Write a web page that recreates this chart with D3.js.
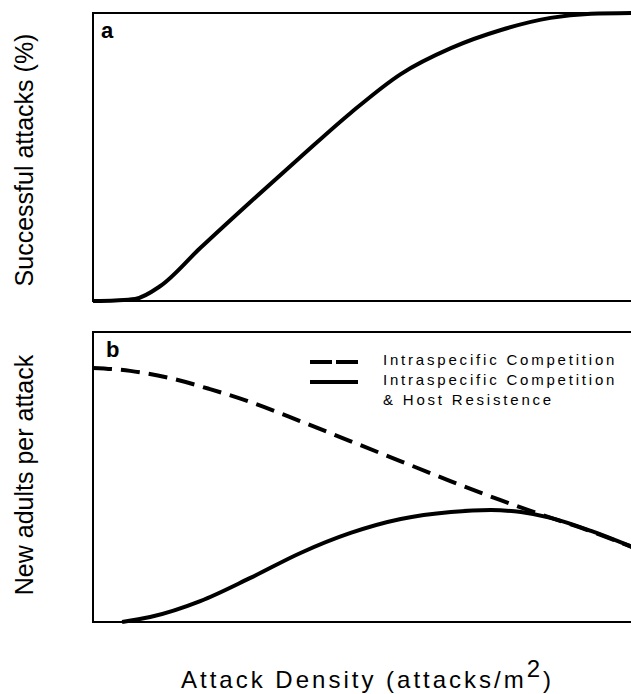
<!DOCTYPE html>
<html lang="en">
<head>
    <meta charset="UTF-8">
    <title>Attack density response</title>
    <style>
        body { margin: 0; background: #fff; }
        text { font-family: "Liberation Sans", Arial, sans-serif; fill: #000; }
    </style>
    <script src="https://d3js.org/d3.v7.min.js"></script>
</head>
<body>
    <div id="chart"></div>

    <script>
        // panel a: successful attacks (%) vs attack density (relative units 0-10)
        const densityA = [0, 0.41, 0.78, 1.25, 1.99, 2.92, 3.85, 4.78, 5.71, 6.64, 7.57, 8.49, 9.24, 10];
        const successA = [0, 0.2, 0.7, 5.2, 18.4, 34.4, 50, 65.3, 78.8, 87.8, 94.1, 98.3, 99.7, 100];

        // panel b: new adults per attack
        const densityComp = [0, 0.69, 1.43, 2.17, 2.91, 3.84, 4.77, 5.7, 6.63, 7.55, 8.29, 9.22, 10];
        const adultsComp = [8.76, 8.66, 8.41, 8.03, 7.59, 6.93, 6.24, 5.55, 4.86, 4.21, 3.72, 3.14, 2.59];

        const densityHost = [0.54, 1.06, 1.99, 2.92, 3.85, 4.78, 5.71, 6.64, 7.38, 7.94, 8.49, 9.24, 10];
        const adultsHost = [0, 0.17, 0.72, 1.52, 2.38, 3.07, 3.55, 3.79, 3.86, 3.79, 3.59, 3.14, 2.59];

        const legendLabels = ["Intraspecific Competition", "Intraspecific Competition", "& Host Resistence"];

        const width = 631, height = 694;
        const left = 93, right = 632;

        const svg = d3.select("#chart").append("svg")
            .attr("width", width)
            .attr("height", height);

        const x = d3.scaleLinear().domain([0, 10]).range([left, right]);
        const yA = d3.scaleLinear().domain([0, 100]).range([301, 13]);
        const yB = d3.scaleLinear().domain([0, 10]).range([622, 332]);

        function panel(y, label, title, labelPos, titleY) {
            const [y0, y1] = y.range();
            svg.append("rect")
                .attr("x", left).attr("y", y1)
                .attr("width", right - left + 2).attr("height", y0 - y1)
                .attr("fill", "none").attr("stroke", "#000").attr("stroke-width", 2);
            svg.append("text")
                .attr("x", labelPos[0]).attr("y", labelPos[1])
                .attr("font-size", 22).attr("font-weight", "bold")
                .text(label);
            svg.append("text")
                .attr("transform", `translate(33,${titleY}) rotate(-90)`)
                .attr("text-anchor", "middle")
                .attr("font-size", 25)
                .text(title);
        }

        panel(yA, "a", "Successful attacks (%)", [101, 38], 160);
        panel(yB, "b", "New adults per attack", [106, 357], 475);

        const lineA = d3.line().x(d => x(d[0])).y(d => yA(d[1])).curve(d3.curveMonotoneX);
        const lineB = d3.line().x(d => x(d[0])).y(d => yB(d[1])).curve(d3.curveMonotoneX);

        svg.append("path")
            .datum(d3.zip(densityA, successA))
            .attr("d", lineA)
            .attr("fill", "none").attr("stroke", "#000").attr("stroke-width", 4);

        svg.append("path")
            .datum(d3.zip(densityComp, adultsComp))
            .attr("d", lineB)
            .attr("fill", "none").attr("stroke", "#000").attr("stroke-width", 4)
            .attr("stroke-dasharray", "19,9");

        svg.append("path")
            .datum(d3.zip(densityHost, adultsHost))
            .attr("d", lineB)
            .attr("fill", "none").attr("stroke", "#000").attr("stroke-width", 4);

        // legend
        const leg = svg.append("g").attr("transform", "translate(310,362)");
        leg.append("line")
            .attr("x1", 0).attr("x2", 48).attr("y1", 0).attr("y2", 0)
            .attr("stroke", "#000").attr("stroke-width", 4).attr("stroke-dasharray", "22,4");
        leg.append("line")
            .attr("x1", 0).attr("x2", 48).attr("y1", 20).attr("y2", 20)
            .attr("stroke", "#000").attr("stroke-width", 4);
        leg.selectAll("text.leg")
            .data(legendLabels)
            .enter().append("text")
            .attr("class", "leg")
            .attr("x", 73)
            .attr("y", (d, i) => 3 + i * 20)
            .attr("font-size", 15)
            .attr("letter-spacing", 2.8)
            .text(d => d);

        // x axis title
        const xt = svg.append("text")
            .attr("x", 181).attr("y", 688)
            .attr("font-size", 24)
            .attr("letter-spacing", 3);
        xt.append("tspan").text("Attack Density (attacks/m");
        xt.append("tspan").attr("dy", -11).text("2");
        xt.append("tspan").attr("dy", 11).text(")");
    </script>
</body>
</html>
